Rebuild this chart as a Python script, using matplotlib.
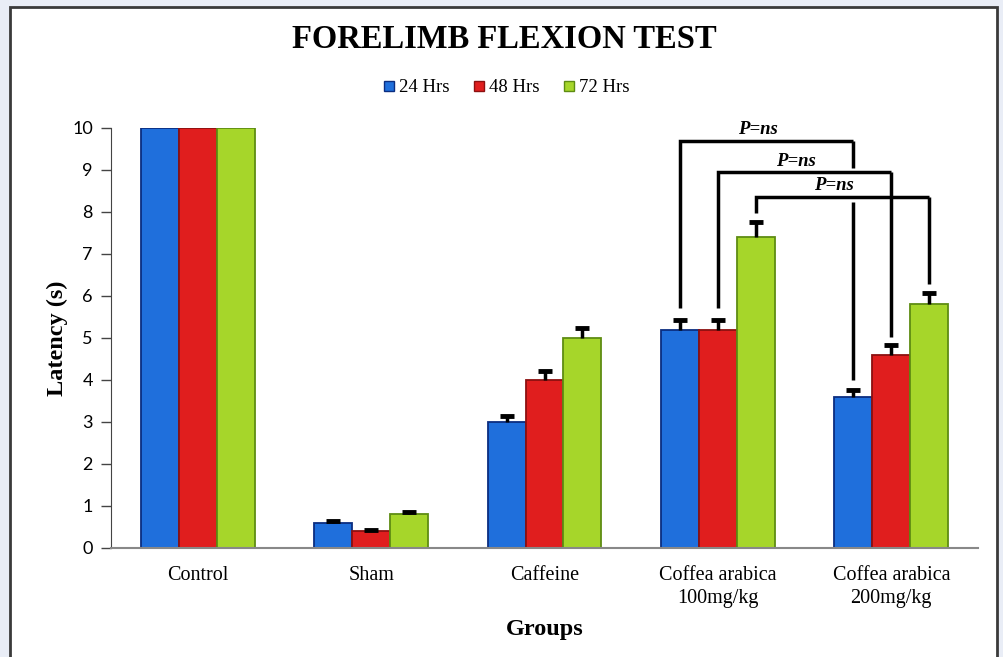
import matplotlib
matplotlib.use("Agg")
import matplotlib.pyplot as plt
import numpy as np
from matplotlib.patches import Rectangle

groups = ["Control", "Sham", "Caffeine", "Coffea arabica\n100mg/kg", "Coffea arabica\n200mg/kg"]
series = ["24 Hrs", "48 Hrs", "72 Hrs"]
v24 = [10, 0.6, 3.0, 5.2, 3.6]
v48 = [10, 0.4, 4.0, 5.2, 4.6]
v72 = [10, 0.8, 5.0, 7.4, 5.8]
e24 = [0, 0.04, 0.15, 0.24, 0.16]
e48 = [0, 0.04, 0.22, 0.24, 0.23]
e72 = [0, 0.05, 0.25, 0.36, 0.27]
yticks = list(range(0, 11))

# significance brackets: (group_a, series_idx, group_b, series_idx, top, left_bottom, right_bottom, label)
brackets = [
    (3, 0, 4, 0, 9.69, 5.71, 4.0, "P=ns"),
    (3, 1, 4, 1, 8.95, 5.71, 5.02, "P=ns"),
    (3, 2, 4, 2, 8.36, 7.98, 6.29, "P=ns"),
]

face = ["#1f6fdc", "#e01e1e", "#a6d62a"]
edge = ["#0b2d80", "#8c1010", "#5e8c12"]

W, H = 1004, 657
fig = plt.figure(figsize=(W / 100, H / 100), dpi=100)
fig.patch.set_facecolor("#e9edf6")
# white panel
fig.patches.append(Rectangle((10 / W, -0.05), (997 - 10) / W, 1.05 - 7 / H,
                             transform=fig.transFigure, facecolor="white",
                             edgecolor="#3a3a3a", linewidth=2, zorder=-10))

ax = fig.add_axes([111 / W, 1 - 548 / H, (978 - 111) / W, (548 - 128) / H])
ax.set_facecolor("none")
ax.set_zorder(5)

x = np.arange(len(groups))
bw = 0.219
vals = [v24, v48, v72]
errs = [e24, e48, e72]
offs = [-bw, 0, bw]
for i in range(3):
    ax.bar(x + offs[i], vals[i], width=bw, color=face[i], edgecolor=edge[i],
           linewidth=1.3, label=series[i], zorder=2)
    ye = np.array(errs[i])
    mask = ye > 0
    eb = ax.errorbar((x + offs[i])[mask], np.array(vals[i])[mask],
                     yerr=[np.zeros(mask.sum()), ye[mask]], fmt="none",
                     ecolor="black", elinewidth=2.5, capsize=5, capthick=3.5, zorder=3)
    caps = eb[1]
    if len(caps) == 2:
        caps[0].set_visible(False)

serif = "Liberation Serif"
for (ga, sa, gb, sb, top, lb, rb, lab) in brackets:
    xa = ga + offs[sa]
    xb = gb + offs[sb]
    ax.plot([xa, xa, xb], [lb, top, top], color="black", lw=2.5, zorder=4,
            solid_capstyle="butt", solid_joinstyle="miter")
    if sa == 0:
        # right leg broken where it crosses the lower brackets
        ax.plot([xb, xb], [top, 9.05], color="black", lw=2.5, zorder=4, solid_capstyle="butt")
        ax.plot([xb, xb], [8.24, rb], color="black", lw=2.5, zorder=4, solid_capstyle="butt")
    else:
        ax.plot([xb, xb], [top, rb], color="black", lw=2.5, zorder=4, solid_capstyle="butt")
    ax.text((xa + xb) / 2 - 0.05, top + 0.06, lab, ha="center", va="bottom",
            fontsize=13.5, fontweight="bold", fontstyle="italic", family=serif, zorder=5)

ax.set_xlim(-0.5, len(groups) - 0.5)
ax.set_ylim(0, 10)
ax.set_yticks(yticks)
ax.set_yticklabels([str(t) for t in yticks], family="Lato", fontsize=13)
ax.set_xticks(x)
ax.set_xticklabels(groups, family=serif, fontsize=14.5, linespacing=1.3)
ax.tick_params(axis="x", length=0, pad=13)
ax.tick_params(axis="y", length=7, width=1, color="#444444", pad=6)
for s in ["top", "right"]:
    ax.spines[s].set_visible(False)
ax.spines["left"].set_color("#444444")
ax.spines["bottom"].set_color("#888888")
ax.spines["bottom"].set_linewidth(1.5)

ax.set_ylabel("Latency (s)", family=serif, fontsize=17.5, fontweight="bold", labelpad=3)
ax.set_xlabel("Groups", family=serif, fontsize=17.5, fontweight="bold", labelpad=8)

fig.text(504 / W, 1 - 40 / H, "FORELIMB FLEXION TEST", ha="center", va="center",
         family=serif, fontsize=23.5, fontweight="bold")

handles = [Rectangle((0, 0), 1, 1, facecolor=face[i], edgecolor=edge[i]) for i in range(3)]
fig.legend(handles, series, loc="center", bbox_to_anchor=(507 / W, 1 - 88 / H), ncol=3,
           frameon=False, prop={"family": serif, "size": 13.5}, handlelength=0.5,
           handleheight=0.5, handletextpad=0.3, columnspacing=1.3)

fig.savefig("out.png", dpi=100, facecolor=fig.get_facecolor())
